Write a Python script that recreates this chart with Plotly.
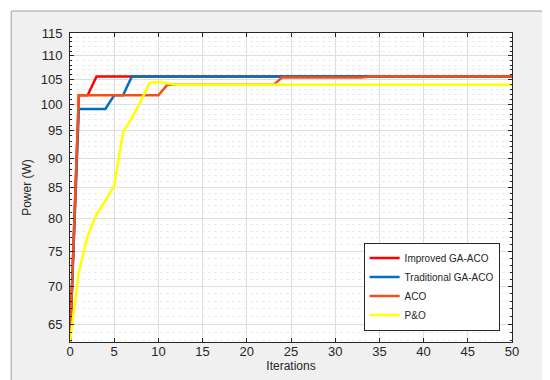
import math

import plotly.graph_objects as go

iterations = list(range(0, 51))

improved_ga_aco = [62.8, 101.8, 101.8] + [105.6] * 48
traditional_ga_aco = [62.8, 99.1, 99.1, 99.1, 99.1, 101.8, 101.8] + [105.6] * 44
aco = ([62.8] + [101.8] * 10 + [103.9] * 13 + [105.4] * 10 + [105.6] * 17)
p_and_o = ([62.8, 72.0, 77.3, 80.6, 82.8, 85.3, 94.7, 97.4, 100.6,
            104.3, 104.5, 104.2] + [103.9] * 39)

series = [
    ("Improved GA-ACO", improved_ga_aco, "#ff0000"),
    ("Traditional GA-ACO", traditional_ga_aco, "#0072bd"),
    ("ACO", aco, "#f5501a"),
    ("P&O", p_and_o, "#ffff00"),
]

y_ticks = list(range(65, 116, 5))
y_minor = [v for v in range(63, 116) if v % 5]

fig = go.Figure()
for name, values, color in series:
    fig.add_trace(go.Scatter(x=iterations, y=values, name=name, mode="lines",
                             line=dict(color=color, width=2.5)))

# grey window frame like the MATLAB figure, white axes area on top of it
fig.add_shape(type="rect", xref="paper", yref="paper",
              x0=-0.133, x1=1.095, y0=-0.139, y1=1.071,
              fillcolor="#f0f0f0", line=dict(color="#a0a0a0", width=1),
              layer="below")
fig.add_shape(type="rect", xref="paper", yref="paper",
              x0=0, x1=1, y0=0, y1=1,
              fillcolor="white", line=dict(width=0), layer="below")

fig.update_layout(
    width=550, height=380,
    margin=dict(l=62, r=46, t=25, b=46),
    paper_bgcolor="white",
    plot_bgcolor="white",
    font=dict(family="Liberation Sans, Arial", size=12, color="#262626"),
    showlegend=True,
    legend=dict(x=0.972, y=0.037, xanchor="right", yanchor="bottom",
                bgcolor="white", bordercolor="#262626", borderwidth=1,
                font=dict(size=10), tracegroupgap=0,
                itemwidth=30),
)
fig.update_xaxes(
    range=[0, 50], tickvals=list(range(0, 51, 5)),
    tickfont=dict(size=13), ticklabelstandoff=-3,
    title=dict(text="Iterations", standoff=2, font=dict(size=12)),
    showline=True, linecolor="#262626", linewidth=1, mirror="ticks",
    ticks="inside", ticklen=4, tickcolor="#262626",
    showgrid=True, gridcolor="#dedede", gridwidth=1, zeroline=False,
)
fig.update_yaxes(
    type="log", range=[math.log10(62.8), math.log10(115)],
    tickvals=y_ticks, ticktext=[str(v) for v in y_ticks],
    tickfont=dict(size=13), ticklabelstandoff=4,
    title=dict(text="Power (W)", standoff=6, font=dict(size=12)),
    showline=True, linecolor="#262626", linewidth=1, mirror="ticks",
    ticks="inside", ticklen=4, tickcolor="#262626",
    showgrid=True, gridcolor="#dedede", gridwidth=1, zeroline=False,
    minor=dict(tickmode="array", tickvals=y_minor, ticks="inside",
               ticklen=2, tickcolor="#262626", showgrid=True,
               gridcolor="#ececec", griddash="dot", gridwidth=1),
)

fig.write_html("out.html")
